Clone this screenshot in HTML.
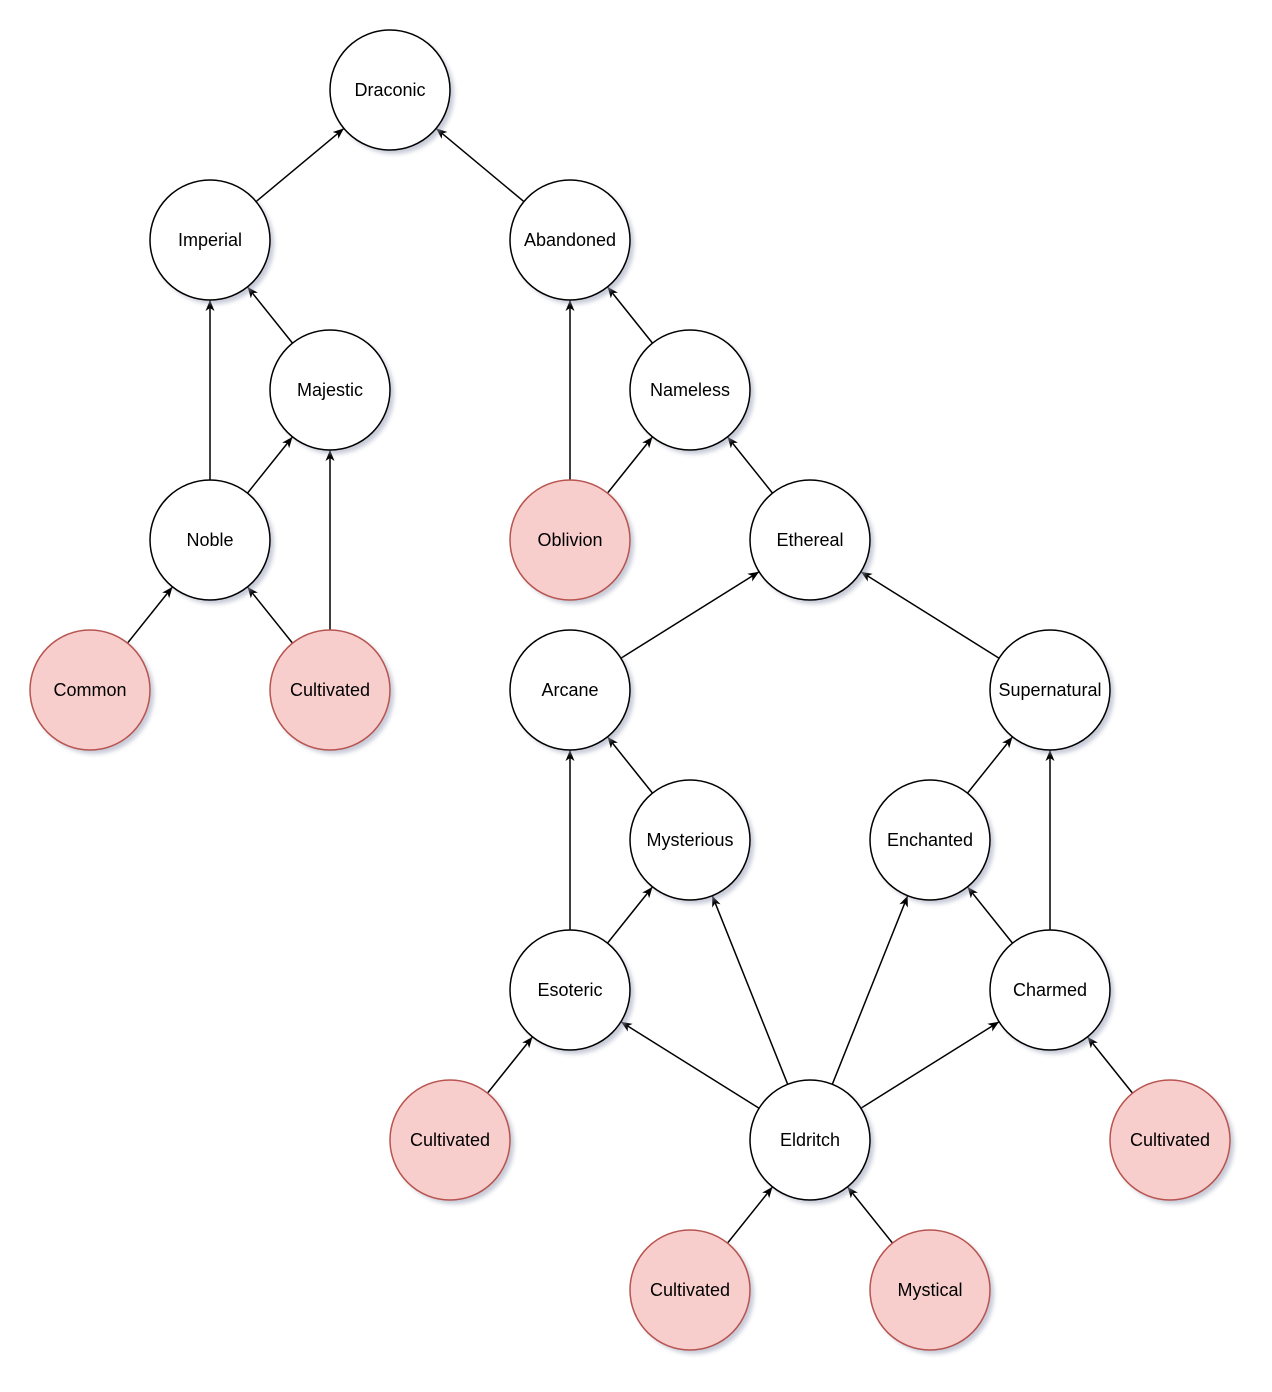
<!DOCTYPE html>
<html><head><meta charset="utf-8"><style>
html,body{margin:0;padding:0;background:#fff;}
svg{display:block;}
text{font-family:"Liberation Sans",Arial,sans-serif;font-size:18px;fill:#000;}
</style></head><body>
<svg width="1272" height="1392" viewBox="0 0 1272 1392" xmlns="http://www.w3.org/2000/svg">
<defs>
<marker id="a" markerWidth="12" markerHeight="12" refX="11" refY="4.5" orient="auto" markerUnits="userSpaceOnUse">
<path d="M0,0 L11,4.5 L0,9 L3,4.5 Z" fill="#000"/>
</marker>
<filter id="s" x="-30%" y="-30%" width="160%" height="160%">
<feGaussianBlur stdDeviation="2"/>
</filter>
</defs>
<g stroke="#000" stroke-width="1.5" marker-end="url(#a)">
<line x1="256.1" y1="201.6" x2="343.9" y2="128.4"/>
<line x1="523.9" y1="201.6" x2="436.1" y2="128.4"/>
<line x1="292.5" y1="343.1" x2="247.5" y2="286.9"/>
<line x1="210" y1="480" x2="210" y2="300"/>
<line x1="247.5" y1="493.1" x2="292.5" y2="436.9"/>
<line x1="330" y1="630" x2="330" y2="450"/>
<line x1="127.5" y1="643.1" x2="172.5" y2="586.9"/>
<line x1="292.5" y1="643.1" x2="247.5" y2="586.9"/>
<line x1="652.5" y1="343.1" x2="607.5" y2="286.9"/>
<line x1="570" y1="480" x2="570" y2="300"/>
<line x1="607.5" y1="493.1" x2="652.5" y2="436.9"/>
<line x1="772.5" y1="493.1" x2="727.5" y2="436.9"/>
<line x1="620.9" y1="658.2" x2="759.1" y2="571.8"/>
<line x1="999.1" y1="658.2" x2="860.9" y2="571.8"/>
<line x1="652.5" y1="793.1" x2="607.5" y2="736.9"/>
<line x1="570" y1="930" x2="570" y2="750"/>
<line x1="607.5" y1="943.1" x2="652.5" y2="886.9"/>
<line x1="967.5" y1="793.1" x2="1012.5" y2="736.9"/>
<line x1="1050" y1="930" x2="1050" y2="750"/>
<line x1="1012.5" y1="943.1" x2="967.5" y2="886.9"/>
<line x1="759.1" y1="1108.2" x2="620.9" y2="1021.8"/>
<line x1="787.7" y1="1084.3" x2="712.3" y2="895.7"/>
<line x1="832.3" y1="1084.3" x2="907.7" y2="895.7"/>
<line x1="860.9" y1="1108.2" x2="999.1" y2="1021.8"/>
<line x1="487.5" y1="1093.1" x2="532.5" y2="1036.9"/>
<line x1="1132.5" y1="1093.1" x2="1087.5" y2="1036.9"/>
<line x1="727.5" y1="1243.1" x2="772.5" y2="1186.9"/>
<line x1="892.5" y1="1243.1" x2="847.5" y2="1186.9"/>
</g>
<g fill="#9aa0b8" opacity="0.55" filter="url(#s)">
<circle cx="394" cy="94" r="60"/><circle cx="214" cy="244" r="60"/><circle cx="574" cy="244" r="60"/>
<circle cx="334" cy="394" r="60"/><circle cx="694" cy="394" r="60"/><circle cx="214" cy="544" r="60"/>
<circle cx="574" cy="544" r="60"/><circle cx="814" cy="544" r="60"/><circle cx="94" cy="694" r="60"/>
<circle cx="334" cy="694" r="60"/><circle cx="574" cy="694" r="60"/><circle cx="1054" cy="694" r="60"/>
<circle cx="694" cy="844" r="60"/><circle cx="934" cy="844" r="60"/><circle cx="574" cy="994" r="60"/>
<circle cx="1054" cy="994" r="60"/><circle cx="454" cy="1144" r="60"/><circle cx="814" cy="1144" r="60"/>
<circle cx="1174" cy="1144" r="60"/><circle cx="694" cy="1294" r="60"/><circle cx="934" cy="1294" r="60"/>
</g>
<g fill="#fff" stroke="#000" stroke-width="1.5">
<circle cx="390" cy="90" r="60"/><circle cx="210" cy="240" r="60"/><circle cx="570" cy="240" r="60"/>
<circle cx="330" cy="390" r="60"/><circle cx="690" cy="390" r="60"/><circle cx="210" cy="540" r="60"/>
<circle cx="810" cy="540" r="60"/><circle cx="570" cy="690" r="60"/><circle cx="1050" cy="690" r="60"/>
<circle cx="690" cy="840" r="60"/><circle cx="930" cy="840" r="60"/><circle cx="570" cy="990" r="60"/>
<circle cx="1050" cy="990" r="60"/><circle cx="810" cy="1140" r="60"/>
</g>
<g fill="#f8cecc" stroke="#b85450" stroke-width="1.5">
<circle cx="570" cy="540" r="60"/><circle cx="90" cy="690" r="60"/><circle cx="330" cy="690" r="60"/>
<circle cx="450" cy="1140" r="60"/><circle cx="1170" cy="1140" r="60"/><circle cx="690" cy="1290" r="60"/>
<circle cx="930" cy="1290" r="60"/>
</g>
<g text-anchor="middle" dominant-baseline="central">
<text x="390" y="90">Draconic</text>
<text x="210" y="240">Imperial</text>
<text x="570" y="240">Abandoned</text>
<text x="330" y="390">Majestic</text>
<text x="690" y="390">Nameless</text>
<text x="210" y="540">Noble</text>
<text x="570" y="540">Oblivion</text>
<text x="810" y="540">Ethereal</text>
<text x="90" y="690">Common</text>
<text x="330" y="690">Cultivated</text>
<text x="570" y="690">Arcane</text>
<text x="1050" y="690">Supernatural</text>
<text x="690" y="840">Mysterious</text>
<text x="930" y="840">Enchanted</text>
<text x="570" y="990">Esoteric</text>
<text x="1050" y="990">Charmed</text>
<text x="450" y="1140">Cultivated</text>
<text x="810" y="1140">Eldritch</text>
<text x="1170" y="1140">Cultivated</text>
<text x="690" y="1290">Cultivated</text>
<text x="930" y="1290">Mystical</text>
</g>
</svg>
</body></html>
